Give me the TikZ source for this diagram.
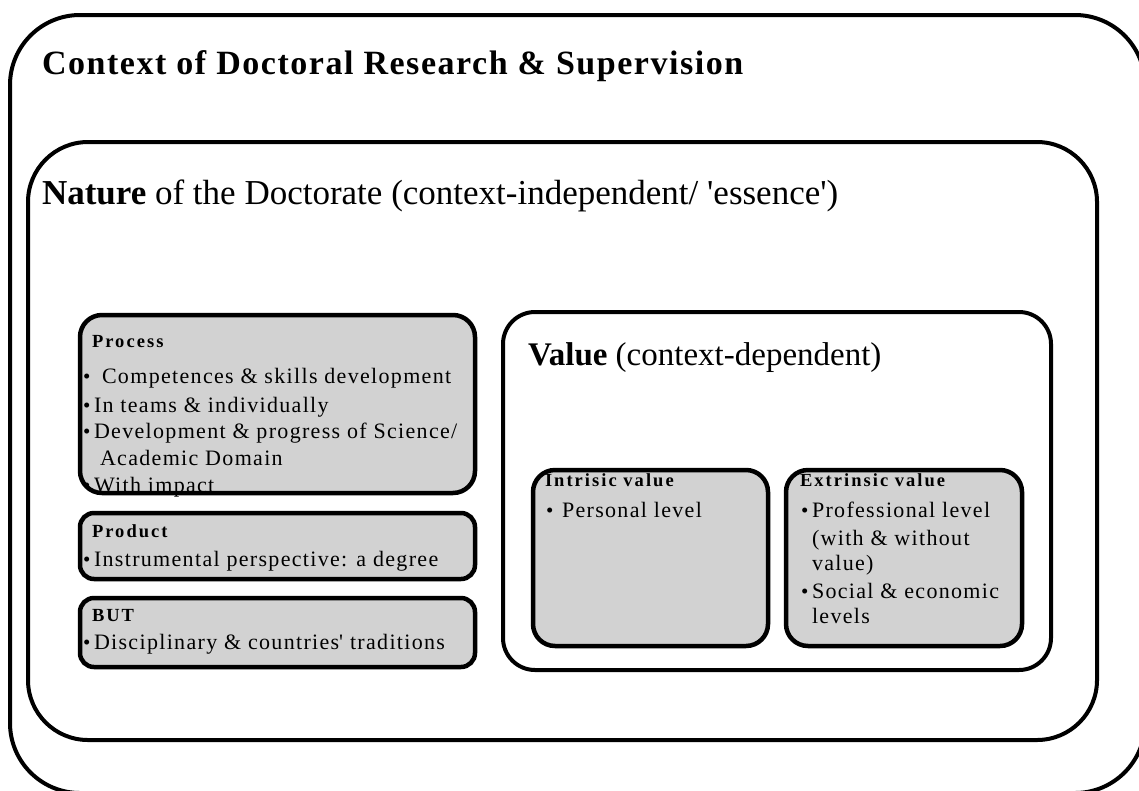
\documentclass[tikz,border=0pt]{standalone}
\usepackage{fontspec}
\setmainfont{Liberation Serif}
\definecolor{boxgray}{RGB}{210,210,210}
\newcommand{\bt}{\makebox[11pt][l]{\raisebox{-0.5pt}{\fontsize{21}{21}\selectfont\textbullet}}}
\begin{document}
\begin{tikzpicture}[x=1pt,y=-1pt,
  frame/.style={draw=black,line width=4pt,rounded corners=#1},
  grayfill/.style={fill=boxgray,rounded corners=22pt},
  grayframe/.style={draw=black,line width=4.5pt,rounded corners=22pt},
  txt/.style={anchor=base west,inner sep=0pt,outer sep=0pt},
  hd/.style={txt,font={\fontsize{18.5}{22}\selectfont\bfseries\addfontfeature{LetterSpace=11}}},
  bl/.style={txt,font={\fontsize{22}{24}\selectfont\addfontfeature{LetterSpace=6}}},
]
\useasboundingbox (0,0) rectangle (1139,790);
\clip (0,0) rectangle (1139,790);

% outer frames
\draw[frame=70pt] (10,15) rectangle (1145,793);
\draw[frame=60pt] (28,142) rectangle (1097,740);
\draw[frame=32pt] (503,312) rectangle (1051,670);

% gray fills
\fill[grayfill] (80,315) rectangle (475,493);
\fill[grayfill,rounded corners=14pt] (80,513) rectangle (475,579);
\fill[grayfill,rounded corners=14pt] (80,598) rectangle (475,667);
\fill[grayfill] (533,470) rectangle (768,646);
\fill[grayfill] (786,470) rectangle (1022,646);

% titles
\node[txt,font={\fontsize{34}{38}\selectfont\bfseries\addfontfeature{LetterSpace=4.5}}] (ctx) at (42,74) {Context of Doctoral Research \& Supervision};
\node[txt,font={\fontsize{35}{38}\selectfont}] (nat) at (42,204) {\textbf{Nature} of the Doctorate (context-independent/ \textquotesingle essence\textquotesingle)};
\node[txt,font={\fontsize{33}{36}\selectfont}] (val) at (528,365) {\textbf{Value} (context-dependent)};

% process
\node[hd] (proc) at (92,347) {Process};
\node[bl] (proc1) at (83,383) {\bt\hspace{8pt}Competences \& skills development};
\node[bl] (proc2) at (83,412) {\bt In teams \& individually};
\node[bl] (proc3) at (83,438) {\bt Development \& progress of Science/};
\node[bl] (proc3b) at (100,465) {Academic Domain};
\node[bl] (proc4) at (83,492) {\bt With impact};

% product
\node[hd] (prod) at (92,537) {Product};
\node[bl] (prod1) at (83,566) {\bt Instrumental perspective: a degree};

% but
\node[hd] (but) at (92,621) {BUT};
\node[bl] (but1) at (83,649) {\bt Disciplinary \& countries\textquotesingle\ traditions};

% intrinsic
\node[hd] (intr) at (545,486) {Intrisic value};
\node[bl] (intr1) at (546,517) {\bt\hspace{5pt}Personal level};

% extrinsic
\node[hd] (extr) at (800,486) {Extrinsic value};
\node[bl] (extr1) at (801,517) {\bt Professional level};
\node[bl] (extr1b) at (812,545) {(with \& without};
\node[bl] (extr1c) at (812,570) {value)};
\node[bl] (extr2) at (801,598) {\bt Social \& economic};
\node[bl] (extr2b) at (812,623) {levels};

% gray frames on top
\draw[grayframe] (80,315) rectangle (475,493);
\draw[grayframe,rounded corners=14pt] (80,513) rectangle (475,579);
\draw[grayframe,rounded corners=14pt] (80,598) rectangle (475,667);
\draw[grayframe] (533,470) rectangle (768,646);
\draw[grayframe] (786,470) rectangle (1022,646);
\end{tikzpicture}
\end{document}
